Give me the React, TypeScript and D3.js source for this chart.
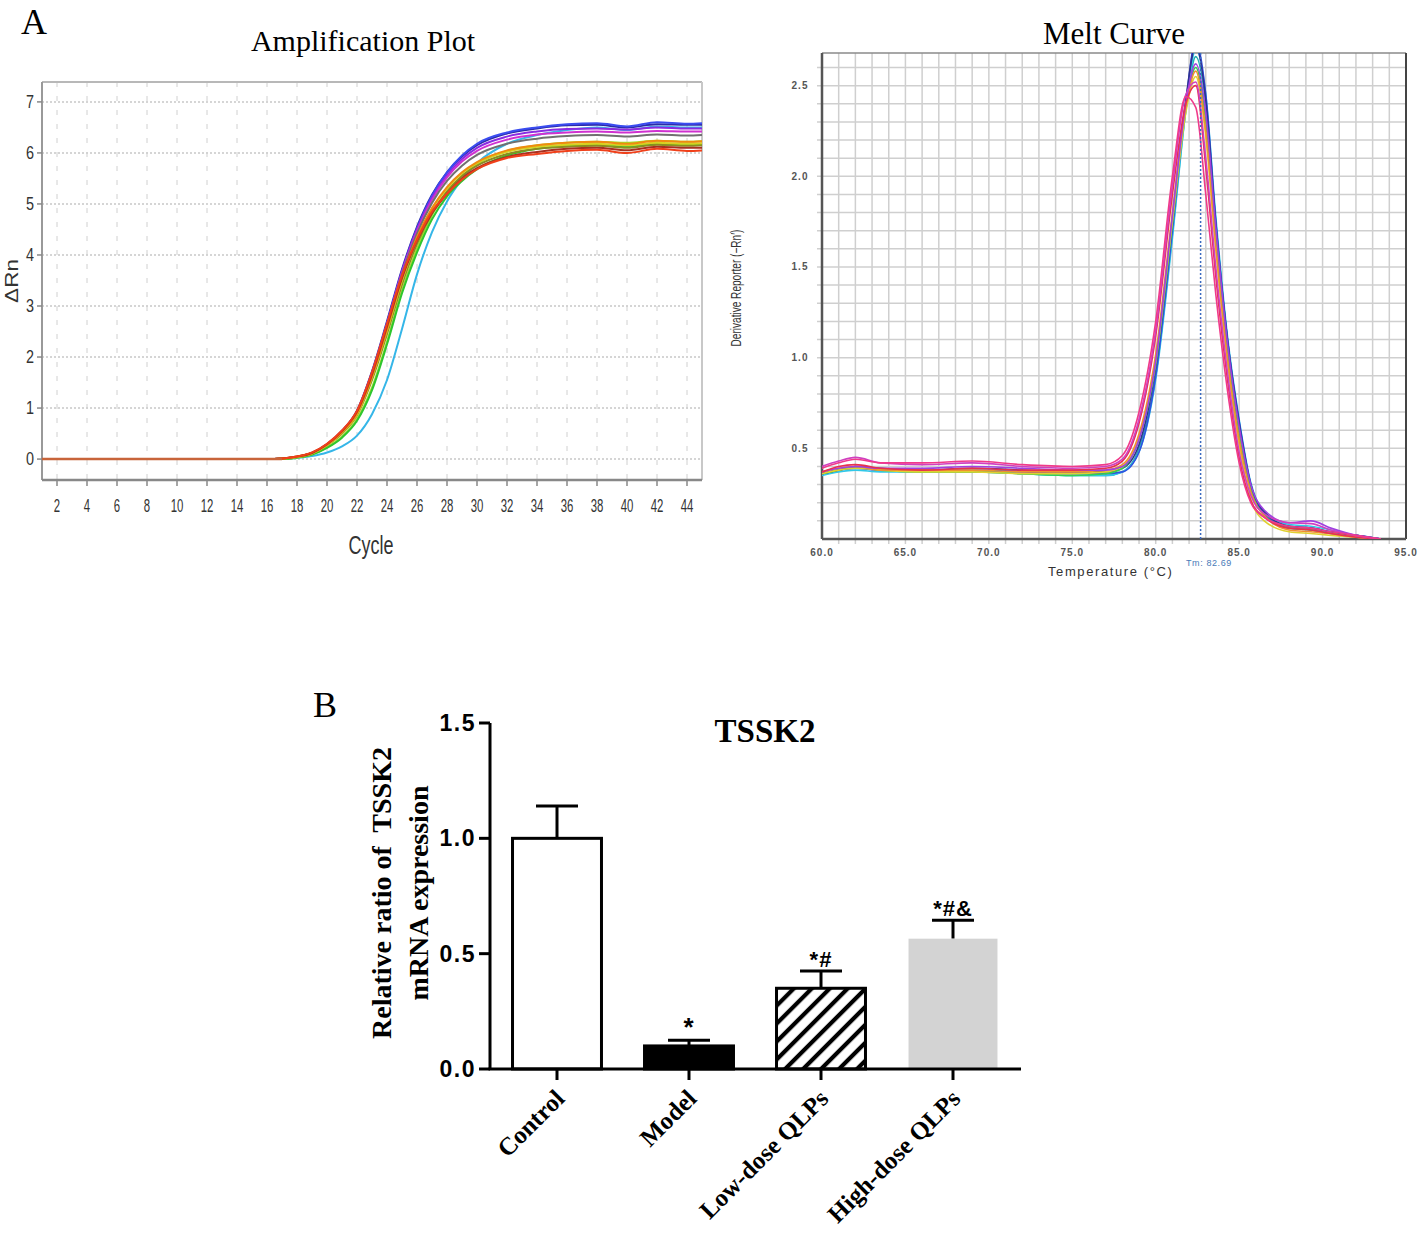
import React from 'react'
import * as d3 from 'd3'

// ---------- amplification plot data (ΔRn per cycle) ----------
const ampCycles = [1, 16, 17, 18, 19, 20, 21, 22, 23, 24, 25, 26, 27, 28, 29, 30, 32, 34, 36, 38, 40, 42, 44, 45]
const ampLightBlue = [0, 0, 0, 0.02, 0.06, 0.13, 0.25, 0.46, 0.88, 1.55, 2.55, 3.62, 4.45, 5.05, 5.48, 5.8, 6.18, 6.35, 6.45, 6.5, 6.45, 6.52, 6.5, 6.5]
const ampNavy = [0, 0, 0.01, 0.04, 0.12, 0.29, 0.55, 0.95, 1.72, 2.7, 3.72, 4.55, 5.18, 5.62, 5.93, 6.15, 6.38, 6.48, 6.54, 6.55, 6.5, 6.56, 6.55, 6.55]
const ampBlue = [0, 0, 0.01, 0.04, 0.11, 0.28, 0.53, 0.93, 1.68, 2.65, 3.68, 4.52, 5.16, 5.62, 5.95, 6.18, 6.4, 6.5, 6.56, 6.58, 6.52, 6.6, 6.57, 6.58]
const ampPurple = [0, 0, 0.01, 0.04, 0.12, 0.29, 0.55, 0.94, 1.7, 2.66, 3.68, 4.5, 5.12, 5.56, 5.88, 6.1, 6.32, 6.42, 6.47, 6.48, 6.46, 6.5, 6.48, 6.48]
const ampMagenta = [0, 0, 0.01, 0.04, 0.12, 0.28, 0.54, 0.93, 1.68, 2.64, 3.65, 4.46, 5.08, 5.52, 5.83, 6.04, 6.26, 6.36, 6.4, 6.42, 6.4, 6.43, 6.42, 6.42]
const ampGray = [0, 0, 0.01, 0.04, 0.12, 0.28, 0.54, 0.92, 1.66, 2.62, 3.62, 4.42, 5.02, 5.45, 5.75, 5.96, 6.18, 6.28, 6.33, 6.35, 6.32, 6.36, 6.34, 6.35]
const ampLime = [0, 0, 0, 0.03, 0.09, 0.23, 0.44, 0.78, 1.4, 2.3, 3.3, 4.12, 4.78, 5.22, 5.55, 5.78, 6.04, 6.15, 6.2, 6.22, 6.2, 6.24, 6.22, 6.23]
const ampGreen = [0, 0, 0, 0.03, 0.09, 0.22, 0.42, 0.75, 1.35, 2.25, 3.25, 4.05, 4.7, 5.15, 5.45, 5.68, 5.95, 6.08, 6.14, 6.16, 6.12, 6.18, 6.16, 6.17]
const ampOlive = [0, 0, 0.01, 0.04, 0.11, 0.27, 0.5, 0.86, 1.55, 2.45, 3.42, 4.22, 4.82, 5.25, 5.55, 5.75, 5.98, 6.08, 6.12, 6.14, 6.1, 6.16, 6.14, 6.15]
const ampYellow = [0, 0, 0.01, 0.04, 0.11, 0.27, 0.52, 0.88, 1.6, 2.52, 3.5, 4.3, 4.9, 5.3, 5.6, 5.8, 6.02, 6.12, 6.16, 6.18, 6.15, 6.2, 6.18, 6.19]
const ampOrange = [0, 0, 0.01, 0.05, 0.12, 0.28, 0.53, 0.9, 1.62, 2.55, 3.55, 4.35, 4.92, 5.33, 5.62, 5.82, 6.05, 6.15, 6.2, 6.22, 6.18, 6.24, 6.22, 6.23]
const ampDarkRed = [0, 0, 0.01, 0.05, 0.12, 0.29, 0.55, 0.93, 1.66, 2.6, 3.55, 4.28, 4.82, 5.2, 5.5, 5.7, 5.92, 6.02, 6.08, 6.1, 6.05, 6.12, 6.1, 6.1]
const ampRed = [0, 0, 0.01, 0.05, 0.13, 0.3, 0.56, 0.95, 1.7, 2.65, 3.6, 4.3, 4.85, 5.2, 5.48, 5.68, 5.9, 5.98, 6.04, 6.06, 6.0, 6.08, 6.04, 6.05]

const ampSeries = [
  { color: '#35b6e8', values: ampLightBlue },
  { color: '#2a2aa8', values: ampNavy },
  { color: '#3a4cf0', values: ampBlue },
  { color: '#8a2be2', values: ampPurple },
  { color: '#d030d0', values: ampMagenta },
  { color: '#707070', values: ampGray },
  { color: '#9ee02a', values: ampLime },
  { color: '#2ec52e', values: ampGreen },
  { color: '#8c8c20', values: ampOlive },
  { color: '#d8d020', values: ampYellow },
  { color: '#f08a10', values: ampOrange },
  { color: '#a83020', values: ampDarkRed },
  { color: '#f0401a', values: ampRed },
]
const ampXTicks = d3.range(2, 46, 2)
const ampYTicks = [0, 1, 2, 3, 4, 5, 6, 7]

// ---------- melt curve data (derivative reporter per °C) ----------
const meltTemps = [60, 61, 62, 63.5, 66, 69, 72, 75, 77, 78, 79, 80, 81, 81.8, 82.4, 83, 83.6, 84.3, 85, 85.7, 86.5, 88, 89.3, 90.5, 92, 93.5]
const meltPink = [0.39, 0.42, 0.44, 0.42, 0.42, 0.43, 0.41, 0.4, 0.41, 0.46, 0.7, 1.2, 2.0, 2.44, 2.38, 1.9, 1.35, 0.82, 0.42, 0.2, 0.12, 0.07, 0.06, 0.04, 0.02, 0]
const meltMagenta = [0.4, 0.43, 0.45, 0.42, 0.41, 0.42, 0.4, 0.39, 0.4, 0.44, 0.66, 1.15, 1.95, 2.45, 2.52, 2.1, 1.5, 0.92, 0.48, 0.24, 0.14, 0.09, 0.085, 0.05, 0.02, 0]
const meltRed = [0.37, 0.4, 0.41, 0.39, 0.38, 0.39, 0.38, 0.38, 0.39, 0.43, 0.64, 1.12, 1.9, 2.4, 2.5, 2.05, 1.45, 0.88, 0.45, 0.21, 0.12, 0.06, 0.05, 0.03, 0.01, 0]
const meltOrange = [0.37, 0.39, 0.4, 0.38, 0.38, 0.38, 0.37, 0.37, 0.38, 0.41, 0.58, 1.02, 1.8, 2.38, 2.58, 2.25, 1.62, 1.0, 0.55, 0.26, 0.13, 0.05, 0.04, 0.03, 0.01, 0]
const meltYellow = [0.36, 0.38, 0.39, 0.38, 0.37, 0.37, 0.36, 0.36, 0.37, 0.4, 0.56, 0.98, 1.75, 2.35, 2.55, 2.22, 1.6, 0.98, 0.52, 0.22, 0.1, 0.04, 0.03, 0.02, 0.01, 0]
const meltGreen = [0.36, 0.38, 0.4, 0.38, 0.37, 0.37, 0.36, 0.35, 0.36, 0.39, 0.55, 0.96, 1.74, 2.38, 2.6, 2.3, 1.68, 1.04, 0.58, 0.27, 0.13, 0.06, 0.05, 0.03, 0.01, 0]
const meltTeal = [0.36, 0.38, 0.39, 0.38, 0.37, 0.37, 0.36, 0.35, 0.35, 0.37, 0.5, 0.9, 1.68, 2.36, 2.66, 2.4, 1.75, 1.1, 0.63, 0.29, 0.14, 0.07, 0.06, 0.04, 0.02, 0]
const meltCyan = [0.35, 0.37, 0.38, 0.37, 0.37, 0.37, 0.36, 0.35, 0.35, 0.37, 0.48, 0.88, 1.66, 2.36, 2.7, 2.45, 1.78, 1.12, 0.66, 0.31, 0.15, 0.08, 0.07, 0.05, 0.02, 0]
const meltBlue = [0.36, 0.38, 0.39, 0.38, 0.38, 0.38, 0.37, 0.36, 0.36, 0.37, 0.48, 0.9, 1.7, 2.4, 2.75, 2.45, 1.75, 1.1, 0.65, 0.3, 0.14, 0.06, 0.05, 0.03, 0.02, 0]
const meltPurple = [0.37, 0.39, 0.4, 0.39, 0.39, 0.4, 0.39, 0.38, 0.38, 0.4, 0.55, 0.98, 1.78, 2.4, 2.62, 2.35, 1.72, 1.08, 0.62, 0.3, 0.16, 0.09, 0.1, 0.06, 0.02, 0]
const meltNavy = [0.36, 0.38, 0.4, 0.39, 0.38, 0.39, 0.38, 0.37, 0.37, 0.39, 0.52, 0.95, 1.75, 2.42, 2.72, 2.42, 1.74, 1.1, 0.64, 0.3, 0.15, 0.07, 0.06, 0.04, 0.02, 0]

const meltSeries = [
  { color: '#20b0b0', values: meltTeal },
  { color: '#30c8e8', values: meltCyan },
  { color: '#3050e0', values: meltBlue },
  { color: '#303090', values: meltNavy },
  { color: '#30d050', values: meltGreen },
  { color: '#e0d030', values: meltYellow },
  { color: '#f09030', values: meltOrange },
  { color: '#a040e0', values: meltPurple },
  { color: '#e83050', values: meltRed },
  { color: '#d040c0', values: meltMagenta },
  { color: '#f03a8a', values: meltPink },
]
const meltXTicks = [60, 65, 70, 75, 80, 85, 90, 95]
const meltYTicks = [0.5, 1.0, 1.5, 2.0, 2.5]
const meltTm = 82.69

// ---------- bar chart data ----------
const groups = ['Control', 'Model', 'Low-dose QLPs', 'High-dose QLPs']
const means = [1.0, 0.1, 0.35, 0.565]
const errors = [0.14, 0.025, 0.075, 0.08]
const marks = ['', '*', '*#', '*#&']
const barYTicks = [0, 0.5, 1.0, 1.5]

const sans = 'Liberation Sans, Arial, sans-serif'
const serif = 'Liberation Serif, Times New Roman, serif'

// text squeezed along its own direction, since the originals use narrow faces
const Squeezed = ({ x, y, sx = 1, rotate = 0, anchor = 'middle', size, fill = '#222', family = sans, weight = 'normal', ls = 0, children }: any) => (
  <text
    transform={`translate(${x},${y}) rotate(${rotate}) scale(${sx},1)`}
    textAnchor={anchor}
    fontSize={size}
    fill={fill}
    fontFamily={family}
    fontWeight={weight}
    letterSpacing={ls}
  >
    {children}
  </text>
)

const App = () => {
  // amplification plot scales
  const ax = d3.scaleLinear().domain([1, 45]).range([42, 702])
  const ay = d3.scaleLinear().domain([-0.41, 7.39]).range([480, 82])
  const ampLine = d3.line<number>()
    .x((_, i) => ax(ampCycles[i]))
    .y(d => ay(d))
    .curve(d3.curveMonotoneX)

  // melt curve scales
  const mx = d3.scaleLinear().domain([60, 95]).range([822, 1406])
  const my = d3.scaleLinear().domain([0, 2.68]).range([539, 53])
  const meltLine = d3.line<number>()
    .x((_, i) => mx(meltTemps[i]))
    .y(d => my(d))
    .curve(d3.curveMonotoneX)
  const meltGridX = d3.range(61, 95, 1)
  const meltGridY = d3.range(1, 27).map(v => v / 10)

  // bar chart scales
  const bx = d3.scaleBand().domain(groups).range([491, 1019]).paddingInner(0.326).paddingOuter(0.163)
  const by = d3.scaleLinear().domain([0, 1.5]).range([1069, 723])
  const bw = bx.bandwidth()

  return (
    <svg width={1418} height={1234} style={{ position: 'absolute', left: 0, top: 0, background: '#fff' }}>
      <defs>
        <clipPath id="meltClip">
          <rect x={mx(60)} y={my(2.68)} width={mx(95) - mx(60)} height={my(0) - my(2.68)} />
        </clipPath>
        <pattern id="hatch" patternUnits="userSpaceOnUse" width={12.7} height={12.7} patternTransform="rotate(45)">
          <line x1={3} y1={0} x2={3} y2={12.7} stroke="#000" strokeWidth={4.2} />
        </pattern>
      </defs>

      {/* ================= Panel A: amplification plot ================= */}
      <text x={21} y={34} fontFamily={serif} fontSize={36}>A</text>
      <text x={363} y={51} textAnchor="middle" fontFamily={serif} fontSize={30}>Amplification Plot</text>

      {ampYTicks.map(t => (
        <line key={'ag' + t} x1={ax(1)} x2={ax(45)} y1={ay(t)} y2={ay(t)} stroke="#c8c8c8" strokeWidth={1.5} strokeDasharray="2,2" />
      ))}
      {ampXTicks.map(t => (
        <line key={'agx' + t} x1={ax(t)} x2={ax(t)} y1={ay(7.39)} y2={ay(-0.41)} stroke="#d0d0d0" strokeWidth={1} strokeDasharray="5,9" />
      ))}
      <line x1={ax(1)} x2={ax(45)} y1={ay(7.39)} y2={ay(7.39)} stroke="#b8b8b8" strokeWidth={2} />
      <line x1={ax(45)} x2={ax(45)} y1={ay(7.39)} y2={ay(-0.41)} stroke="#c8c8c8" strokeWidth={2} />
      <line x1={ax(1)} x2={ax(1)} y1={ay(7.39)} y2={ay(-0.41)} stroke="#999" strokeWidth={2} />
      <line x1={ax(1)} x2={ax(45)} y1={ay(-0.41)} y2={ay(-0.41)} stroke="#888" strokeWidth={2.5} />

      {ampYTicks.map(t => (
        <g key={'ayt' + t}>
          <line x1={ax(1) - 5} x2={ax(1)} y1={ay(t)} y2={ay(t)} stroke="#888" strokeWidth={1.5} />
          <Squeezed x={34} y={ay(t) + 6} sx={0.8} anchor="end" size={18} fill="#333">{t}</Squeezed>
        </g>
      ))}
      {ampXTicks.map(t => (
        <g key={'axt' + t}>
          <line x1={ax(t)} x2={ax(t)} y1={ay(-0.41)} y2={ay(-0.41) + 6} stroke="#888" strokeWidth={1.5} />
          <Squeezed x={ax(t)} y={512} sx={0.6} size={19} fill="#333">{t}</Squeezed>
        </g>
      ))}
      <Squeezed x={18} y={281} rotate={-90} sx={1.25} size={18} fill="#333">ΔRn</Squeezed>
      <Squeezed x={371} y={554} sx={0.72} size={25} fill="#333">Cycle</Squeezed>

      {ampSeries.map((s, i) => (
        <path key={'amp' + i} d={ampLine(s.values) || ''} fill="none" stroke={s.color} strokeWidth={2} />
      ))}
      <line x1={ax(1)} x2={ax(17)} y1={ay(0)} y2={ay(0)} stroke="#c8643a" strokeWidth={2.5} />

      {/* ================= Panel A: melt curve ================= */}
      <text x={1114} y={44} textAnchor="middle" fontFamily={serif} fontSize={31}>Melt Curve</text>

      {meltGridX.map(t => (
        <line key={'mgx' + t} x1={mx(t)} x2={mx(t)} y1={my(2.68)} y2={my(0) + 5} stroke="#cfcfcf" strokeWidth={1.5} />
      ))}
      {meltGridY.map(t => (
        <line key={'mgy' + t} x1={mx(60) - 5} x2={mx(95)} y1={my(t)} y2={my(t)} stroke="#cfcfcf" strokeWidth={1.5} />
      ))}
      <line x1={mx(60)} x2={mx(95)} y1={my(2.68)} y2={my(2.68)} stroke="#8a8a8a" strokeWidth={1.5} />
      <line x1={mx(95)} x2={mx(95)} y1={my(2.68)} y2={my(0)} stroke="#444" strokeWidth={2} />
      <line x1={mx(60)} x2={mx(60)} y1={my(2.68)} y2={my(0)} stroke="#555" strokeWidth={2.5} />
      <line x1={mx(60)} x2={mx(95)} y1={my(0)} y2={my(0)} stroke="#555" strokeWidth={2.5} />

      {meltYTicks.map(t => (
        <text key={'myt' + t} x={800} y={my(t) + 3.5} textAnchor="middle" fontFamily={sans} fontSize={10} fontWeight="bold" fill="#555" letterSpacing={1}>
          {t.toFixed(1)}
        </text>
      ))}
      {meltXTicks.map(t => (
        <text key={'mxt' + t} x={mx(t)} y={556} textAnchor="middle" fontFamily={sans} fontSize={10} fontWeight="bold" fill="#555" letterSpacing={1}>
          {t.toFixed(1)}
        </text>
      ))}
      <Squeezed x={741} y={288} rotate={-90} sx={0.72} size={14} fill="#333">Derivative Reporter (−Rn′)</Squeezed>
      <text x={1048} y={576} fontFamily={sans} fontSize={13} fill="#333" letterSpacing={1.6}>Temperature (°C)</text>
      <text x={1186} y={566} fontFamily={sans} fontSize={9} fill="#4a7ab8" letterSpacing={0.6}>Tm: 82.69</text>

      <g clipPath="url(#meltClip)">
        {meltSeries.map((s, i) => (
          <path key={'melt' + i} d={meltLine(s.values) || ''} fill="none" stroke={s.color} strokeWidth={1.6} />
        ))}
      </g>
      <line x1={mx(meltTm)} x2={mx(meltTm)} y1={my(2.68)} y2={my(0)} stroke="#3a6ac0" strokeWidth={1.5} strokeDasharray="2,2" />

      {/* ================= Panel B: TSSK2 bar chart ================= */}
      <text x={313} y={717} fontFamily={serif} fontSize={36}>B</text>
      <text x={765} y={742} textAnchor="middle" fontFamily={serif} fontSize={33} fontWeight="bold">TSSK2</text>

      <text transform="translate(391,893) rotate(-90)" textAnchor="middle" fontFamily={serif} fontSize={28} fontWeight="bold" xmlSpace="preserve">
        Relative ratio of  TSSK2
      </text>
      <text transform="translate(428,893) rotate(-90)" textAnchor="middle" fontFamily={serif} fontSize={28} fontWeight="bold">
        mRNA expression
      </text>

      {groups.map((g, i) => {
        const x0 = bx(g) as number
        const cx = x0 + bw / 2
        const top = by(means[i])
        const errTop = by(means[i] + errors[i])
        const fill = i === 0 ? '#fff' : i === 1 ? '#000' : i === 2 ? 'url(#hatch)' : '#d3d3d3'
        const stroke = i === 3 ? 'none' : '#000'
        return (
          <g key={g}>
            <line x1={cx} x2={cx} y1={top} y2={errTop} stroke="#000" strokeWidth={3} />
            <line x1={cx - 21} x2={cx + 21} y1={errTop} y2={errTop} stroke="#000" strokeWidth={3} />
            {i === 2 && <rect x={x0} y={top} width={bw} height={by(0) - top} fill="#fff" />}
            <rect x={x0} y={top} width={bw} height={by(0) - top} fill={fill} stroke={stroke} strokeWidth={3} />
            {marks[i] && (
              <text x={cx} y={errTop - 4} textAnchor="middle" fontFamily={sans} fontSize={i === 1 ? 26 : 22} fontWeight="bold" letterSpacing={1}>
                {marks[i]}
              </text>
            )}
            <line x1={cx} x2={cx} y1={by(0)} y2={by(0) + 11} stroke="#000" strokeWidth={3} />
            <text
              transform={`translate(${cx + 9},${by(0) + 31}) rotate(-45)`}
              textAnchor="end"
              fontFamily={serif}
              fontSize={25}
              fontWeight="bold"
            >
              {g}
            </text>
          </g>
        )
      })}

      <line x1={490} x2={490} y1={by(1.5)} y2={by(0)} stroke="#000" strokeWidth={3} />
      <line x1={488.5} x2={1021} y1={by(0)} y2={by(0)} stroke="#000" strokeWidth={3} />
      {barYTicks.map(t => (
        <g key={'byt' + t}>
          <line x1={479} x2={490} y1={by(t)} y2={by(t)} stroke="#000" strokeWidth={3} />
          <text x={476} y={by(t) + 8} textAnchor="end" fontFamily={sans} fontSize={23} fontWeight="bold" letterSpacing={1.5}>
            {t.toFixed(1)}
          </text>
        </g>
      ))}
    </svg>
  )
}

export default App
